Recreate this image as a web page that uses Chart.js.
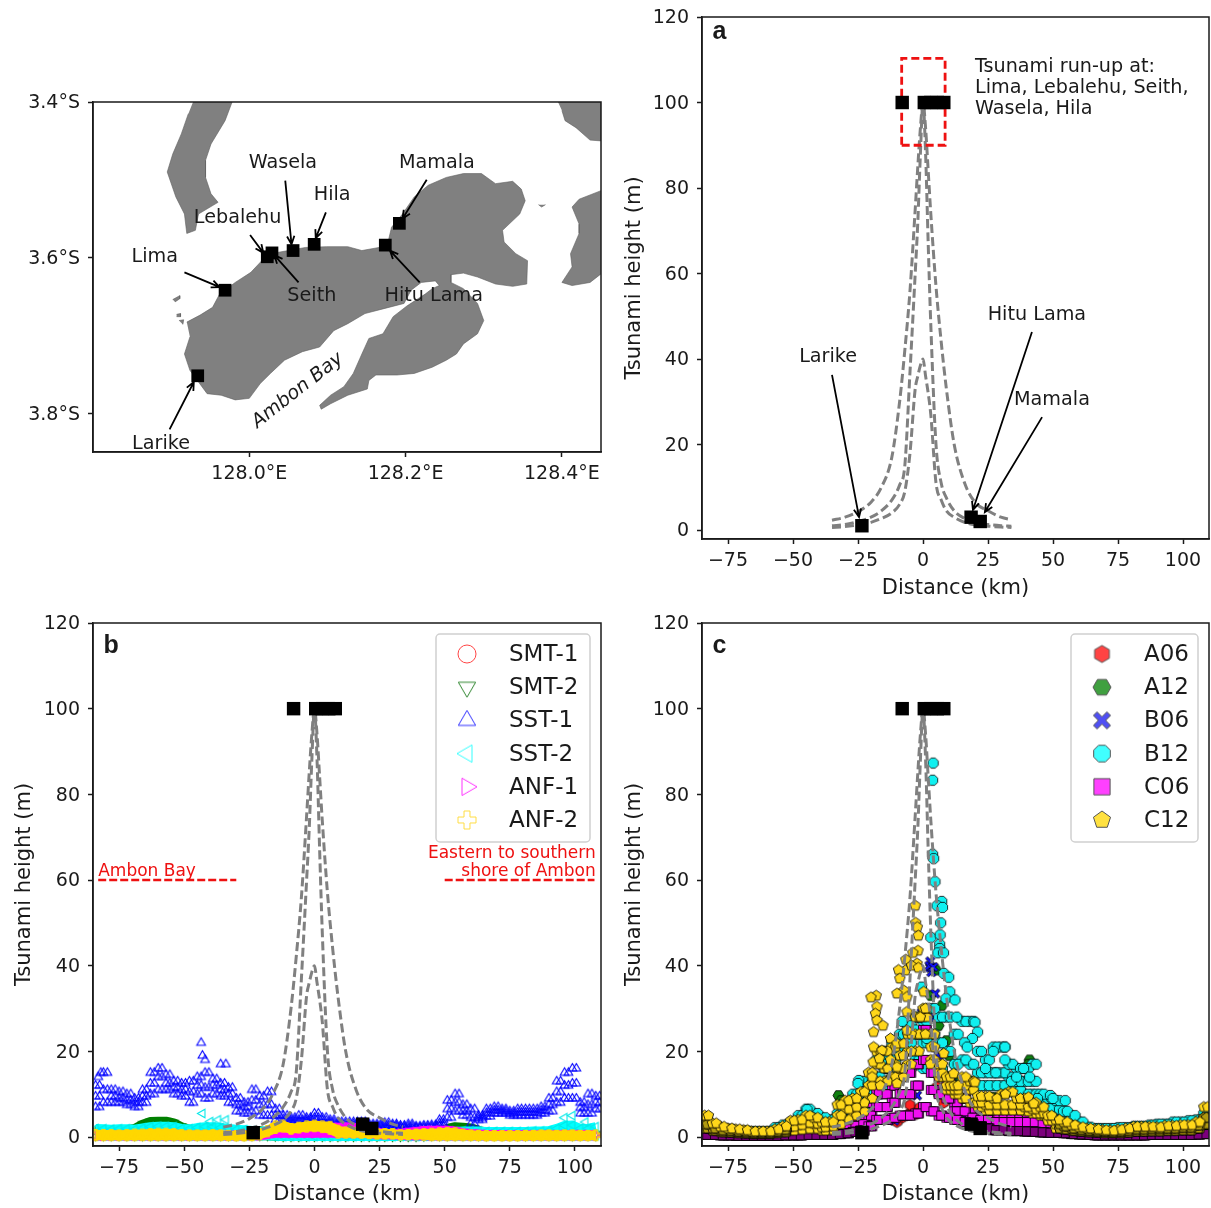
<!DOCTYPE html>
<html>
<head>
<meta charset="utf-8">
<title>Tsunami run-up, Ambon</title>
<script src="https://cdn.jsdelivr.net/npm/chart.js@4/dist/chart.umd.js"></script>
<style>
  html, body { margin: 0; background: #fff; }
  #page { position: relative; width: 1211px; height: 1208px; overflow: hidden; }
  canvas { position: absolute; }
</style>
</head>
<body>
<div id="page">
  <canvas id="mapChart" width="611" height="410" style="left:0;top:90px"></canvas>
  <canvas id="panelA" width="589" height="601" style="left:622px;top:0"></canvas>
  <canvas id="panelB" width="599" height="607" style="left:12px;top:600px"></canvas>
  <canvas id="panelC" width="589" height="607" style="left:622px;top:600px"></canvas>
</div>
<script>
// ---- map: coastlines as lon/lat
const mainIslandLon = [127.920,127.937,127.953,127.962,127.982,128.002,128.016,128.027,128.050,128.072,128.099,128.126,128.144,128.166,128.178,128.182,128.196,128.211,128.229,128.252,128.274,128.297,128.315,128.337,128.348,128.353,128.346,128.324,128.326,128.341,128.356,128.355,128.337,128.315,128.292,128.274,128.258,128.258,128.274,128.292,128.300,128.292,128.274,128.265,128.252,128.234,128.211,128.189,128.162,128.153,128.151,128.126,128.104,128.092,128.090,128.104,128.121,128.133,128.144,128.153,128.171,128.184,128.202,128.225,128.234,128.243,128.238,128.220,128.207,128.198,128.171,128.148,128.126,128.108,128.090,128.068,128.045,128.027,128.014,128.000,127.982,127.964,127.946,127.935,127.924,127.917,127.924];
const mainIslandLat = [-3.683,-3.674,-3.664,-3.647,-3.632,-3.619,-3.604,-3.595,-3.591,-3.587,-3.586,-3.586,-3.591,-3.587,-3.578,-3.561,-3.544,-3.522,-3.507,-3.497,-3.492,-3.492,-3.505,-3.502,-3.512,-3.527,-3.544,-3.565,-3.580,-3.595,-3.604,-3.634,-3.637,-3.634,-3.625,-3.620,-3.622,-3.632,-3.640,-3.659,-3.681,-3.698,-3.711,-3.724,-3.732,-3.741,-3.749,-3.751,-3.751,-3.758,-3.769,-3.777,-3.788,-3.795,-3.790,-3.777,-3.766,-3.749,-3.724,-3.704,-3.698,-3.676,-3.662,-3.647,-3.640,-3.636,-3.630,-3.632,-3.642,-3.659,-3.666,-3.672,-3.685,-3.694,-3.715,-3.721,-3.732,-3.749,-3.762,-3.781,-3.783,-3.777,-3.775,-3.760,-3.745,-3.724,-3.702];
const westIslandLon = [127.928,127.978,127.969,127.951,127.944,127.944,127.951,127.960,127.935,127.931,127.920,127.917,127.906,127.895,127.902,127.913,127.922];
const westIslandLat = [-3.4,-3.4,-3.424,-3.454,-3.475,-3.497,-3.518,-3.529,-3.544,-3.565,-3.569,-3.544,-3.522,-3.490,-3.467,-3.441,-3.415];
const cornerLandLon = [128.395,128.45,128.45,128.436,128.418,128.404,128.400];
const cornerLandLat = [-3.4,-3.4,-3.450,-3.449,-3.433,-3.424,-3.411];
const eastLandLon = [128.45,128.422,128.413,128.422,128.422,128.411,128.413,128.400,128.413,128.436,128.45];
const eastLandLat = [-3.514,-3.525,-3.535,-3.557,-3.569,-3.595,-3.612,-3.632,-3.636,-3.632,-3.621];
const islet1Lon = [127.902,127.911,127.911,127.905];
const islet1Lat = [-3.654,-3.649,-3.653,-3.657];
const islet2Lon = [127.907,127.912,127.912,127.907];
const islet2Lat = [-3.673,-3.672,-3.676,-3.676];
const islet3Lon = [127.910,127.916,127.915];
const islet3Lat = [-3.681,-3.680,-3.686];
const islet4Lon = [128.370,128.374,128.379];
const islet4Lat = [-3.532,-3.535,-3.532];

const siteLon = [127.934,127.969,128.023,128.029,128.056,128.083,128.174,128.192];
const siteLat = [-3.752,-3.642,-3.599,-3.594,-3.591,-3.583,-3.584,-3.556];

const lonTicks = [128.0,128.2,128.4];
const latTicks = [-3.8,-3.6,-3.4];
const kmTicks = [-75,-50,-25,0,25,50,75,100];
const heightTicks = [0,20,40,60,80,100,120];

// ---- observed run-up and the dashed envelope curves
const siteKm = [-23.5,-8,0.5,3,5.5,8,18.5,22];
const siteHeight = [1,100,100,100,100,100,3,2];
const curveKm = [-35,-30,-25,-20,-16,-12,-9,-7,-5,-3,-2,-1,0,1,2,3,5,7,9,12,16,20,25,30,34];
const curveWide = [2.3,3,4.3,6.5,10,17,30,42,56,75,85,94,100,94,84,74,57,44,33,20,11,6.5,4.5,3,2.4];
const curveNarrow = [1,1.3,2,3,4.5,7,10.5,15,37,60,72,88,100,88,67,48,20,11,7.5,4.5,2.7,1.8,1.3,1,0.9];
const curveLow = [0.6,0.8,1.2,1.8,2.7,4,6,9,18,33,36,38.5,40,36,32,27,11,7,4.5,3,1.8,1.2,0.9,0.7,0.6];
const boxKm = [-8.2,8.5,8.5,-8.2,-8.2];
const boxHeight = [90,90,110.3,110.3,90];

// ---- panel b
const gridKm = [
  -84,-81,-78,-75,-72,-69,-66,-63,-60,-57,-54,-51,-48,
  -45,-42,-39,-36,-33,-30,-27,-24,-21,-18,-15,-12,-9,
  -6,-3,0,3,6,9,12,15,18,21,24,27,30,
  33,36,39,42,45,48,51,54,57,60,63,66,69,
  72,75,78,81,84,87,90,93,96,99,102,105,108];
// more sites, between the first ones
const gridKmShift = [
  -82.5,-79.5,-76.5,-73.5,-70.5,-67.5,-64.5,-61.5,-58.5,-55.5,-52.5,-49.5,-46.5,
  -43.5,-40.5,-37.5,-34.5,-31.5,-28.5,-25.5,-22.5,-19.5,-16.5,-13.5,-10.5,-7.5,
  -4.5,-1.5,1.5,4.5,7.5,10.5,13.5,16.5,19.5,22.5,25.5,28.5,31.5,
  34.5,37.5,40.5,43.5,46.5,49.5,52.5,55.5,58.5,61.5,64.5,67.5,70.5,
  73.5,76.5,79.5,82.5,85.5,88.5,91.5,94.5,97.5,100.5,103.5,106.5,109.5];
const gridKmThird = [
  -83,-80,-77,-74,-71,-68,-65,-62,-59,-56,-53,-50,-47,
  -44,-41,-38,-35,-32,-29,-26,-23,-20,-17,-14,-11,-8,
  -5,-2,1,4,7,10,13,16,19,22,25,28,31,
  34,37,40,43,46,49,52,55,58,61,64,67,70,
  73,76,79,82,85,88,91,94,97,100,103,106,109];
const sst1High = [
  12,15,11,10.5,10,9,11,15,16,14.5,13,12.5,13,
  14,15,13.5,12.5,11.5,9,8,11,9.5,10.5,6.5,5,4.5,
  5,4.5,5.5,4.5,4,3.5,3.5,3.5,3.5,3,3,3.3,3,
  2.7,3,2.5,2.7,2.8,4,8.5,10,7.5,6.5,5,6.5,7,
  6.5,6,6.5,6.5,6.5,7,9,13,15,16,8,10,9.5];
const sst1Mid = [
  9.5,11,9.5,9,8.5,8,9.5,12.5,14,12.5,11.5,11,10.5,
  12,11.5,12,11,10,7.5,7,8.5,7.5,7.5,5,4.2,4,
  4,4,4.5,3.8,3.5,3,3,3,3,2.6,2.6,2.7,2.6,
  2.3,2.5,2.2,2.3,2.4,3.2,6.5,8,6,4.5,4.5,5.6,6.2,
  6,5.5,5.7,5.7,5.7,6.2,7.5,10.5,12,12.5,6.8,7.5,8];
const sst1Low = [
  7,8,8,8,7.5,7,8,10,11,11,10,9.5,8,
  10,9,10,9.5,8,6,5.5,6,5,5,4,3.5,3.5,
  3.5,3.5,3.5,3,3,2.5,2.5,2.5,2.5,2.3,2.3,2.2,2.2,
  2,2,2,2,2,2.5,4.5,6,5,3,4,4.8,5.5,
  5.5,5,5,5,5,5.5,6,8,9,9,5.5,5.5,6.5];
const sst1PeakKm = [-43.5,-43,-42,-36,-34,-83,-82];
const sst1PeakHeight = [22,19,18,17,17,14,15];
const smt1Km = [-70,-50,-30,-10,0,10,30,50,70,90];
const smt1Height = [0.8,0.9,0.7,1.2,2,1.4,0.8,1,0.7,0.8];
const smt2Top = [
  1.5,1.6,1.6,1.6,1.7,2,3,3.6,3.7,3.7,3.3,2.4,1.8,
  1.4,1.3,1.3,1.2,1.2,1.2,1.3,1.5,1.5,1.2,1.2,1.1,1.1,
  1,1,1,1,1,1,1,1,1,1,1,0.8,0.7,
  0.7,0.7,0.8,0.9,1,1.2,2,2.4,2.3,2.1,1.6,1,0.8,
  0.7,0.7,0.7,0.7,0.7,0.7,0.7,0.7,0.7,0.7,0.7,0.7,0.7];
const sst2Top = [
  2,1.9,1.8,1.9,1.9,1.8,2.1,2.4,2.5,2.5,2.4,2,1.9,
  2.2,2.4,2.4,2.2,2,1.8,1.7,1.5,1.2,1.6,2,1.6,1.5,
  1.5,1.4,1.4,1.3,1.2,1,1,1,1,0.9,0.8,0.8,0.7,
  0.8,0.9,1,1.1,1.2,1.3,1.4,1.3,1.4,1.4,1.4,1.3,1.3,
  1.3,1.3,1.3,1.3,1.4,1.4,1.5,2,2.7,2.8,2,2,2.4];
const sst2Base = [
  0.3,0.3,0.3,0.3,0.3,0.3,0.3,0.3,0.3,0.3,0.3,0.3,0.3,
  0.3,0.3,0.3,0.3,0.3,0.3,0.3,0.3,0.3,0.3,0.2,0.1,0.1,
  0.1,0.1,0.1,0.1,0.1,0.1,0.1,0.1,0.1,0.1,0.1,0.1,0.1,
  0.1,0.1,0.1,0.2,0.3,0.3,0.3,0.3,0.3,0.3,0.3,0.3,0.3,
  0.3,0.3,0.3,0.3,0.3,0.3,0.3,0.3,0.3,0.3,0.3,0.3,0.3];
const sst2PeakKm = [-43,-40,-37,-34,96,99,104];
const sst2PeakHeight = [5.5,3.6,4,4,4.5,5,3.5];
const anf1Top = [
  0.3,0.3,0.4,0.4,0.4,0.4,0.4,0.5,0.4,0.4,0.4,0.4,0.4,
  0.4,0.4,0.4,0.4,0.4,0.4,0.5,0.5,0.6,0.8,1,1,1,
  1,1,0.9,1.8,2.3,2.3,2.4,2.3,2,1.7,1.2,0.8,0.7,
  0.9,1.1,1.3,1.5,1.6,1.6,1.6,1.4,1,0.8,0.7,0.6,0.6,
  0.6,0.5,0.5,0.5,0.5,0.5,0.5,0.5,0.6,0.6,0.6,0.6,0.6];
const anf1Base = [
  0.3,0.3,0.3,0.3,0.3,0.3,0.3,0.3,0.3,0.3,0.3,0.3,0.3,
  0.3,0.3,0.3,0.3,0.3,0.3,0.3,0.3,0.3,0.6,0.9,0.9,0.9,
  0.9,0.9,0.9,0.9,0.9,0.9,0.9,0.9,0.9,0.8,0.6,0.5,0.5,
  0.4,0.3,0.3,0.3,0.3,0.3,0.3,0.3,0.3,0.3,0.3,0.3,0.3,
  0.3,0.3,0.3,0.3,0.3,0.3,0.3,0.3,0.3,0.3,0.3,0.3,0.3];
const anf2Top = [
  0.6,0.6,0.6,0.5,0.6,0.7,0.7,0.8,0.9,0.9,0.8,0.6,0.5,
  0.5,0.5,0.6,0.5,0.4,0.3,0.3,0.4,0.8,1.5,2.6,2.8,2,
  2.3,2.6,2.8,2.6,2.5,1.6,1.2,1.1,1,0.9,0.8,0.8,0.8,
  0.5,0.6,0.7,0.8,0.9,1,1.1,1,0.7,0.5,0.4,0.3,0.3,
  0.3,0.3,0.3,0.4,0.4,0.5,0.5,0.4,0.5,0.5,0.4,0.4,0.5];
const anf2Base = [
  0.3,0.3,0.3,0.3,0.3,0.3,0.3,0.3,0.3,0.3,0.3,0.3,0.3,
  0.3,0.3,0.3,0.3,0.3,0.3,0.3,0.3,0.5,1.2,2,2.3,1.8,
  2.1,2.3,2.4,2.2,1.8,0.9,0.9,0.9,0.9,0.8,0.7,0.7,0.7,
  0.5,0.5,0.5,0.4,0.3,0.3,0.3,0.3,0.3,0.3,0.3,0.3,0.3,
  0.3,0.3,0.3,0.3,0.3,0.3,0.3,0.3,0.3,0.3,0.3,0.3,0.3];
const ambonBayKm = [-83,-30];
const easternKm = [50,107.5];
const limitHeight = [60,60];

// ---- panel c
const c12High = [
  5,3.2,2.4,2,1.8,1.6,1.3,1.3,1.3,1.8,2.5,3.8,4,
  5,4.5,3.5,3.5,7.5,8.5,9,10.5,15,20,20,21,19,
  24,28,30,24,17,14,12,14,13,9.5,9.5,9,10,
  10.5,9,9,8,7,5,4,3.5,2.8,2.3,2,1.8,1.6,
  1.5,1.7,2,2.4,2.4,2.4,2.3,2.6,2.6,2.8,2.8,3.5,7];
const c12Mid = [
  3,2,1.6,1.5,1.3,1.2,1,1,1,1.3,1.7,2.4,2.8,
  3.3,3.1,2.3,2.5,5,6.5,7,8,12,17,16,17,16,
  20,24,28,21,15,12,11,12,11,8,7.5,7.5,7.5,
  7.5,7.5,7,6.5,5.5,3.8,3,2.5,2,1.7,1.5,1.4,1.3,
  1.2,1.3,1.5,1.8,1.8,1.9,1.9,2,2,2.2,2.2,2.7,4.5];
const c12Low = [
  2,1.5,1.2,1.1,1,0.9,0.8,0.8,0.8,1,1.2,1.5,1.7,
  1.9,1.9,1.5,1.6,3,4,5,6,9,13,13,14,14,
  17,20,24,18,14,11,10,9,8,7,6.2,6.2,6.2,
  6.2,6.2,6,5.5,5,4,2,1.8,1.5,1.3,1.2,1.1,1,
  1,1,1.1,1.3,1.3,1.4,1.4,1.5,1.5,1.6,1.6,2,3];
const c12CoreKm = [-18,-17.7,-18.3,-17.7,-19,-15.4,-12.5,-10,-19,-15.8,-19.2,-16.8,-12.5,-10,-7.4,-6.2,-6.8,-2.3,0.3,-6.2,-1,-6.2,0.9,-7.4,0.9,8,2.8,11.8,20,31.7,40.6,42.6,-19.6,-16.4,-10,-3,-2.8,-2.2,-1.8,-1.9,-3.9,-6.6,-4.4,-1.8,-9.4,-8.9,-20,-10];
const c12CoreHeight = [33,30.4,28.8,27.2,24.5,26,23,21.8,21,20.2,17.5,18.3,18,16.3,34.2,32.7,38.9,40.5,33.9,29.2,28,24.9,30,21.8,24,19.5,17,14.8,12.8,10,9.3,7.8,14,12,12.5,54,50,49,47,43.5,43,41.4,40,39.5,39,37,32.6,33.5];
const c06High = [
  2.4,2,1.5,1.2,1,0.9,0.9,0.8,0.8,1,1.2,1.4,1.6,
  2,1.8,1.5,1.4,2.5,3,4,4.5,8,10.5,10,12,14,
  15,17,25,15,14,13,8,9,6,5,5.5,5.5,5,
  5,5,5,5,4.5,4,2.8,2.5,1.8,1.5,1.2,1,0.9,
  0.9,0.9,0.9,1,1.1,1.2,1.2,1.3,1.3,1.4,1.5,1.8,2.6];
const c06Mid = [
  1.4,1.2,1,0.8,0.7,0.6,0.6,0.6,0.6,0.7,0.8,0.9,1,
  1.2,1.1,1,1,1.6,2,2.6,3,5,7,7,8,10,
  10,12,18,11,10,9,6,6,4.5,4,4,3.5,3.5,
  3.5,3.5,3.5,3.5,3,2.5,2,1.8,1.3,1.1,0.9,0.8,0.7,
  0.7,0.7,0.7,0.8,0.8,0.9,0.9,0.9,1,1,1.1,1.3,1.8];
const c06Low = [
  0.5,0.5,0.4,0.4,0.3,0.3,0.3,0.3,0.3,0.3,0.4,0.4,0.4,
  0.5,0.5,0.5,0.5,0.7,0.9,1.2,1.5,2.5,4,4,4.5,5,
  5,5.5,7,6,5,4.5,4,3.5,3,2.5,2,1.6,1.6,
  1.4,1.4,1.3,1.2,1.1,1,1,0.9,0.7,0.6,0.5,0.4,0.4,
  0.4,0.4,0.4,0.4,0.4,0.5,0.5,0.5,0.5,0.5,0.5,0.6,0.7];
const b12High = [
  3.5,2.5,2,1.8,1.5,1.4,1.3,1.3,1.3,2.2,2.8,3.5,5,
  6.5,5.5,4.5,4,5.5,8,10,13,13,18,20,22,24,
  26,28,27,30,28,28,24,27,27,20,18,21,21,
  17,16,16,17,10,9,8.5,6,5,3.5,2.3,2,2,
  2,2.2,2.2,2.5,2.5,2.8,3,3,3.5,3.5,3.8,4,5.5];
const b12Mid = [
  2.4,1.8,1.5,1.3,1.2,1.1,1,1,1,1.6,2,2.6,3.5,
  4.5,4,3.2,3,4,6,7.5,10,11,14,16,18,20,
  22,24,22,24,22,20,17,18,17,15,15,15,15,
  14,13,13,13,8,7,6.5,4.5,3.5,2.5,1.7,1.5,1.5,
  1.5,1.6,1.7,1.8,1.9,2,2.2,2.2,2.5,2.5,2.8,3,4];
const b12Low = [
  1.6,1.2,1,0.9,0.8,0.8,0.7,0.7,0.7,1,1.3,1.8,2.3,
  3,2.8,2.4,2.2,3,4,5,7,8,10,12,14,15,
  16,18,16,17,16,14,12,13,13,12,12,12,12,
  11,11,10,10,6,5,4.5,3,2.5,1.8,1.2,1.1,1.1,
  1.1,1.1,1.2,1.3,1.3,1.4,1.5,1.5,1.7,1.8,1.9,2.1,2.8];
const b12CoreKm = [3.9,3.7,3.7,4.1,4.6,7.2,5.4,7.5,6.8,3,6.6,6.4,6.4,5.7,7.9,8,9.9,-0.6,10.3,8.8,12.3,13,20,21,19,27,31.5,31.5,38.7,41,49,50,54.7,-24.7,-25,-44.6,-15,-14,-8,-3,1.5,16,17,24,28,34,36,44];
const b12CoreHeight = [87.3,83.3,66,65,59.6,55,54,53.6,50,46.6,47.2,45,44,43,43,38.2,37.3,35,33.9,32.3,32,28,26.8,24.5,23,20,21,18,16,14,9.7,9,8.5,13.2,12.5,6.4,19,17,27,25,23,22,21,16,15,13,14,9];
const a12Km = [5,7.3,9,41,40.5,-32.5,-31.5,27,23,14,12,10,6,3];
const a12Height = [39,30.7,22.5,18,17,9.7,8.5,9.3,8,13,17,19,26,33];
const b06Km = [2.8,2.8,3.2,2.5,4,4.7,4.7,-0.5,-2.3,12,17,15,-12,-11,9,6];
const b06Height = [41,39.5,38.5,40,39.7,33.5,28,29,9.7,8.6,6.2,5.5,4.3,3.8,14,19];
const a06Km = [-2.3,-4,-6,-1.5,-8,5.4,6,8,-10,-5];
const a06Height = [5.4,6,5.2,6.8,4.5,11.7,10,8,3.5,7.5];

const legendB = ['SMT-1','SMT-2','SST-1','SST-2','ANF-1','ANF-2'];
const legendC = ['A06','A12','B06','B12','C06','C12'];

const ink = '#1a1a1a';
const fontName = '"DejaVu Sans"';
const letterFont = 'bold 25px "Liberation Sans"';
const dashGray = '#808080';

const pts = (xs, ys) => xs.map((x, i) => ({ x, y: ys[i] }));

// markers are little canvases, chart.js can use them as pointStyle
function makeMarker(kind, size, fill, stroke, lw) {
  const c = document.createElement('canvas');
  const s = Math.ceil(size + lw * 2 + 2);
  c.width = s; c.height = s;
  const g = c.getContext('2d');
  g.translate(s / 2, s / 2);
  const r = size / 2;
  g.beginPath();
  const poly = (n, rot) => {
    for (let i = 0; i < n; i++) {
      const a = (rot + i * 360 / n) * Math.PI / 180;
      g.lineTo(r * Math.cos(a), r * Math.sin(a));
    }
    g.closePath();
  };
  const shape = (list) => { list.forEach(p => g.lineTo(p[0] * r, p[1] * r)); g.closePath(); };
  if (kind === 'circle') g.arc(0, 0, r, 0, Math.PI * 2);
  if (kind === 'hexUp') poly(6, -90);
  if (kind === 'hexFlat') poly(6, 0);
  if (kind === 'octagon') poly(8, 22.5);
  if (kind === 'pentagon') poly(5, -90);
  if (kind === 'up') poly(3, -90);
  if (kind === 'down') poly(3, 90);
  if (kind === 'left') poly(3, 180);
  if (kind === 'right') poly(3, 0);
  if (kind === 'square') shape([[-.9,-.9],[.9,-.9],[.9,.9],[-.9,.9]]);
  if (kind === 'plus') shape([[-.33,-1],[.33,-1],[.33,-.33],[1,-.33],[1,.33],[.33,.33],[.33,1],[-.33,1],[-.33,.33],[-1,.33],[-1,-.33],[-.33,-.33]]);
  if (kind === 'fatX') shape([[-.55,-.95],[0,-.4],[.55,-.95],[.95,-.55],[.4,0],[.95,.55],[.55,.95],[0,.4],[-.55,.95],[-.95,.55],[-.4,0],[-.95,-.55]]);
  if (fill) { g.fillStyle = fill; g.fill(); }
  g.lineWidth = lw; g.strokeStyle = stroke; g.stroke();
  return c;
}

function axis(min, max, ticks, title, size, fmt, pad, labelOffset) {
  return {
    type: 'linear', min, max,
    afterBuildTicks: s => { s.ticks = ticks.map(v => ({ value: v })); },
    afterFit: s => {
      if (s.isHorizontal()) s.height = size; else s.width = size;
      s.paddingLeft = s.paddingRight = s.paddingTop = s.paddingBottom = 0;
    },
    grid: { drawOnChartArea: false, drawTicks: true, tickLength: 5, tickWidth: 1.5, tickColor: ink },
    border: { display: true, color: ink, width: 1.5 },
    ticks: { autoSkip: false, maxRotation: 0, minRotation: 0, padding: pad, color: ink, labelOffset: labelOffset || 0,
      font: { family: fontName, size: 19 }, callback: v => fmt(v) },
    title: { display: !!title, text: title, color: ink, padding: 0, font: { family: fontName, size: 21 } }
  };
}
const plainTick = v => String(v).replace('-', '\u2212');

const framePlugin = {
  id: 'frame',
  afterDatasetsDraw(chart) {
    const a = chart.chartArea, g = chart.ctx;
    g.save();
    g.strokeStyle = ink; g.lineWidth = 1.5;
    g.strokeRect(a.left, a.top, a.right - a.left, a.bottom - a.top);
    g.restore();
  }
};

// land polygons, filled from the points chart.js has placed
const landPlugin = {
  id: 'land',
  beforeDatasetDraw(chart, args) {
    const ds = chart.data.datasets[args.index];
    if (!ds.land) return;
    const g = chart.ctx, a = chart.chartArea;
    g.save();
    g.beginPath(); g.rect(a.left, a.top, a.right - a.left, a.bottom - a.top); g.clip();
    g.beginPath();
    args.meta.data.forEach(p => g.lineTo(p.x, p.y));
    g.closePath();
    g.fillStyle = '#808080';
    g.fill();
    g.restore();
  }
};

// text and arrows, given in data units
function notesPlugin(notes) {
  return {
    id: 'notes',
    afterDatasetsDraw(chart) {
      const g = chart.ctx, sx = chart.scales.x, sy = chart.scales.y;
      g.save();
      notes.forEach(n => {
        if (n.from) {
          const x0 = sx.getPixelForValue(n.from[0]), y0 = sy.getPixelForValue(n.from[1]);
          const x1 = sx.getPixelForValue(n.to[0]), y1 = sy.getPixelForValue(n.to[1]);
          const a = Math.atan2(y1 - y0, x1 - x0);
          g.strokeStyle = '#000'; g.lineWidth = 1.8;
          g.beginPath(); g.moveTo(x0, y0); g.lineTo(x1, y1);
          g.moveTo(x1 - 9 * Math.cos(a - 0.42), y1 - 9 * Math.sin(a - 0.42));
          g.lineTo(x1, y1);
          g.lineTo(x1 - 9 * Math.cos(a + 0.42), y1 - 9 * Math.sin(a + 0.42));
          g.stroke();
        }
        if (n.text) {
          g.save();
          g.translate(sx.getPixelForValue(n.x), sy.getPixelForValue(n.y));
          if (n.rot) g.rotate(n.rot * Math.PI / 180);
          g.font = n.font || `19.2px ${fontName}`;
          g.fillStyle = n.color || ink;
          g.textAlign = n.align || 'center';
          g.textBaseline = 'middle';
          g.fillText(n.text, 0, 0);
          g.restore();
        }
      });
      g.restore();
    }
  };
}

function legendPlugin(labels, markers, boxWidth) {
  return {
    id: 'keyBox',
    afterDraw(chart) {
      const g = chart.ctx, a = chart.chartArea;
      const left = a.right - 11 - boxWidth, top = a.top + 11;
      g.save();
      g.beginPath();
      g.roundRect(left, top, boxWidth, 208, 4);
      g.fillStyle = 'rgba(255,255,255,0.85)'; g.fill();
      g.strokeStyle = '#d0d0d0'; g.lineWidth = 1.5; g.stroke();
      g.font = `23px ${fontName}`;
      g.fillStyle = ink; g.textBaseline = 'middle'; g.textAlign = 'left';
      labels.forEach((t, i) => {
        const y = top + 20 + i * 33.2;
        const m = markers[i];
        g.drawImage(m, left + 31 - m.width / 2, y - m.height / 2);
        g.fillText(t, left + 73, y + 1);
      });
      g.restore();
    }
  };
}

function scatterRow(xs, ys, marker) {
  return { type: 'scatter', data: pts(xs, ys), pointStyle: marker, pointRadius: 5, showLine: false };
}
// the same profile read at the extra sites as well
function bothGrids(row, marker) {
  return [scatterRow(gridKm, row, marker), scatterRow(gridKmShift, row, marker)];
}
function allGrids(row, marker) {
  return [...bothGrids(row, marker), scatterRow(gridKmThird, row, marker)];
}
// only the far-field part of a row, where the overplotted edges make it look darker
function farGrids(row, marker, fromKm) {
  return [gridKm, gridKmShift, gridKmThird].map(xs =>
    Object.assign(scatterRow(xs, row, marker), { data: pts(xs, row).filter(p => Math.abs(p.x) > fromKm) }));
}
function band(xs, top, base, color, marker) {
  // top row carries the fill down to the base row; the thick line stands for the marker size
  const rowStyle = { type: 'scatter', showLine: true, borderWidth: 9, borderColor: color, borderJoinStyle: 'round', pointStyle: marker, pointRadius: 5 };
  return [
    Object.assign({ data: pts(xs, top), backgroundColor: color, fill: '+1' }, rowStyle),
    Object.assign({ data: pts(xs, base), fill: false }, rowStyle)
  ];
}
function curveSets() {
  return [curveWide, curveNarrow, curveLow].map(h => ({
    type: 'scatter', data: pts(curveKm, h), showLine: true, pointRadius: 0,
    borderColor: dashGray, borderWidth: 3, borderDash: [9, 4], cubicInterpolationMode: 'monotone', fill: false
  }));
}
function siteSet() {
  return { type: 'scatter', data: pts(siteKm, siteHeight), pointStyle: 'rect', pointRadius: 9.5,
    backgroundColor: '#000', borderColor: '#000', borderWidth: 0 };
}
// later in the list paints on top
function layered(list) {
  list.forEach((d, i) => { d.order = list.length - i; });
  return list;
}
function makeChart(id, datasets, scales, padding, plugins) {
  return new Chart(document.getElementById(id), {
    type: 'scatter',
    data: { datasets: layered(datasets) },
    options: {
      responsive: false, animation: false, events: [],
      layout: { padding, autoPadding: false },
      scales,
      plugins: { legend: { display: false }, tooltip: { enabled: false } }
    },
    plugins
  });
}

// ---- map
const landSets = [
  [mainIslandLon, mainIslandLat], [westIslandLon, westIslandLat], [cornerLandLon, cornerLandLat],
  [eastLandLon, eastLandLat], [islet1Lon, islet1Lat], [islet2Lon, islet2Lat], [islet3Lon, islet3Lat], [islet4Lon, islet4Lat]
].map(p => ({ type: 'scatter', land: true, data: pts(p[0], p[1]), showLine: true, pointRadius: 0,
  borderColor: '#5f5f5f', borderWidth: 0.6, fill: false }));

const mapNotes = [
  { text: 'Wasela', x: 128.043, y: -3.479, from: [128.046, -3.501], to: [128.054, -3.583] },
  { text: 'Hila', x: 128.106, y: -3.519, from: [128.098, -3.542], to: [128.085, -3.575] },
  { text: 'Lebalehu', x: 127.985, y: -3.549, from: [128.001, -3.571], to: [128.018, -3.594] },
  { text: 'Lima', x: 127.879, y: -3.599, from: [127.917, -3.619], to: [127.962, -3.638] },
  { text: 'Seith', x: 128.080, y: -3.650, from: [128.063, -3.632], to: [128.032, -3.597] },
  { text: 'Mamala', x: 128.240, y: -3.479, from: [128.227, -3.500], to: [128.196, -3.550] },
  { text: 'Hitu Lama', x: 128.236, y: -3.650, from: [128.218, -3.632], to: [128.180, -3.591] },
  { text: 'Larike', x: 127.887, y: -3.840, from: [127.898, -3.821], to: [127.929, -3.760] },
  { text: 'Ambon Bay', x: 128.062, y: -3.771, rot: -38, font: `italic 19.2px ${fontName}` }
];
makeChart('mapChart',
  [...landSets, { type: 'scatter', data: pts(siteLon, siteLat), pointStyle: 'rect', pointRadius: 9, backgroundColor: '#000', borderWidth: 0 }],
  {
    x: axis(127.8, 128.45, lonTicks, '', 48, v => v.toFixed(1) + '\u00b0E', 6),
    y: axis(-3.85, -3.4, latTicks, '', 93, v => (-v).toFixed(1) + '\u00b0S', 8, 1.5)
  },
  { top: 12, right: 10 },
  [landPlugin, framePlugin, notesPlugin(mapNotes)]
);

// ---- panel a
const notesA = [
  { text: 'a', x: -81, y: 116.5, align: 'left', font: letterFont },
  { text: 'Tsunami run-up at:', x: 20, y: 108.3, align: 'left' },
  { text: 'Lima, Lebalehu, Seith,', x: 20, y: 103.4, align: 'left' },
  { text: 'Wasela, Hila', x: 20, y: 98.5, align: 'left' },
  { text: 'Larike', x: -36.5, y: 40.5, from: [-35, 36.3], to: [-24.6, 3] },
  { text: 'Hitu Lama', x: 43.8, y: 50.3, from: [41.9, 46.3], to: [19.2, 4.7] },
  { text: 'Mamala', x: 49.6, y: 30.4, from: [45.8, 26.4], to: [23.8, 4.2] }
];
makeChart('panelA',
  [...curveSets(),
   { type: 'scatter', data: pts(boxKm, boxHeight), showLine: true, pointRadius: 0, borderColor: '#ee1111', borderWidth: 2.8, borderDash: [8, 4], fill: false },
   siteSet()],
  {
    x: axis(-85, 110, kmTicks, 'Distance (km)', 62, plainTick, 6),
    y: axis(-2.1, 120, heightTicks, 'Tsunami height (m)', 80, plainTick, 8, 1.5)
  },
  { top: 17, right: 2 },
  [framePlugin, notesPlugin(notesA)]
);

// ---- panel b
const hollow = (kind, color) => makeMarker(kind, 10, null, color, 1.1);
const mSmt1 = hollow('circle', '#ff0000'), mSmt2 = hollow('down', '#008000'), mSst1 = hollow('up', '#0000ff');
const mSst2 = hollow('left', '#00e8e8'), mAnf1 = hollow('right', '#ff00ff'), mAnf2 = hollow('plus', '#ffd700');
const legendMarkersB = [
  makeMarker('circle', 18, null, '#f44', 1), makeMarker('down', 20, null, '#383', 1), makeMarker('up', 20, null, '#33f', 1),
  makeMarker('left', 20, null, '#3ff', 1), makeMarker('right', 20, null, '#f3f', 1), makeMarker('plus', 18, null, '#fd4', 1)
];
const notesB = [
  { text: 'b', x: -81, y: 114.6, align: 'left', font: letterFont },
  { text: 'Ambon Bay', x: -83, y: 62, align: 'left', color: '#ee1111', font: `17px ${fontName}` },
  { text: 'Eastern to southern', x: 108, y: 66.2, align: 'right', color: '#ee1111', font: `17px ${fontName}` },
  { text: 'shore of Ambon', x: 108, y: 62, align: 'right', color: '#ee1111', font: `17px ${fontName}` }
];
const redLine = xs => ({ type: 'scatter', data: pts(xs, limitHeight), showLine: true, pointRadius: 0, borderColor: '#ee1111', borderWidth: 2.6, borderDash: [8, 3], fill: false });
makeChart('panelB',
  [
    scatterRow(smt1Km, smt1Height, mSmt1),
    ...band(gridKm, smt2Top, sst2Base, '#008000', mSmt2),
    ...bothGrids(sst1Low, mSst1),
    ...bothGrids(sst1Mid, mSst1),
    ...bothGrids(sst1High, mSst1),
    scatterRow(sst1PeakKm, sst1PeakHeight, mSst1),
    ...band(gridKm, sst2Top, sst2Base, '#00ffff', mSst2),
    scatterRow(sst2PeakKm, sst2PeakHeight, mSst2),
    ...band(gridKm, anf1Top, anf1Base, '#ff00ff', mAnf1),
    ...band(gridKm, anf2Top, anf2Base, '#ffd700', mAnf2),
    ...curveSets(), siteSet(), redLine(ambonBayKm), redLine(easternKm)
  ],
  {
    x: axis(-85, 110, kmTicks, 'Distance (km)', 61, plainTick, 6),
    y: axis(-2.1, 120, heightTicks, 'Tsunami height (m)', 81, plainTick, 8, 1.5)
  },
  { top: 23, right: 10 },
  [framePlugin, notesPlugin(notesB), legendPlugin(legendB, legendMarkersB, 154)]
);

// ---- panel c
const solid = (kind, size, color) => makeMarker(kind, size, color, 'rgba(0,0,0,0.8)', 1);
const mA06 = solid('hexUp', 11, '#ff2020'), mA12 = solid('hexFlat', 11, '#108010'), mB06 = solid('fatX', 10, '#1010f0');
const mB12 = solid('octagon', 11, '#10f0f0'), mC06 = solid('square', 10, '#f010f0'), mC12 = solid('pentagon', 11, '#ffd71a');
const mC06Far = solid('square', 10, '#7c007c'), mC12Far = solid('pentagon', 11, '#b09a10');
const legendMarkersC = [
  makeMarker('hexUp', 17, 'rgba(255,20,20,0.8)', '#555', 1), makeMarker('hexFlat', 18, 'rgba(0,128,0,0.75)', '#555', 1),
  makeMarker('fatX', 18, 'rgba(20,20,240,0.75)', '#555', 1), makeMarker('octagon', 18, 'rgba(0,255,255,0.75)', '#555', 1),
  makeMarker('square', 18, 'rgba(255,0,255,0.75)', '#555', 1), makeMarker('pentagon', 18, 'rgba(255,215,0,0.75)', '#555', 1)
];
makeChart('panelC',
  [
    scatterRow(a06Km, a06Height, mA06),
    scatterRow(a12Km, a12Height, mA12),
    scatterRow(b06Km, b06Height, mB06),
    ...bothGrids(b12Low, mB12),
    ...bothGrids(b12Mid, mB12),
    ...bothGrids(b12High, mB12),
    scatterRow(b12CoreKm, b12CoreHeight, mB12),
    ...allGrids(c06High, mC06),
    ...allGrids(c06Mid, mC06),
    ...allGrids(c06Low, mC06),
    ...farGrids(c06Low, mC06Far, 22),
    ...bothGrids(c12Low, mC12),
    ...bothGrids(c12Mid, mC12),
    ...farGrids(c12Low, mC12Far, 52),
    ...farGrids(c12Mid, mC12Far, 52),
    ...bothGrids(c12High, mC12),
    scatterRow(c12CoreKm, c12CoreHeight, mC12),
    ...curveSets(), siteSet()
  ],
  {
    x: axis(-85, 110, kmTicks, 'Distance (km)', 61, plainTick, 6),
    y: axis(-2.1, 120, heightTicks, 'Tsunami height (m)', 80, plainTick, 8, 1.5)
  },
  { top: 23, right: 2 },
  [framePlugin, notesPlugin([{ text: 'c', x: -81, y: 114.6, align: 'left', font: letterFont }]), legendPlugin(legendC, legendMarkersC, 127)]
);
</script>
</body>
</html>
